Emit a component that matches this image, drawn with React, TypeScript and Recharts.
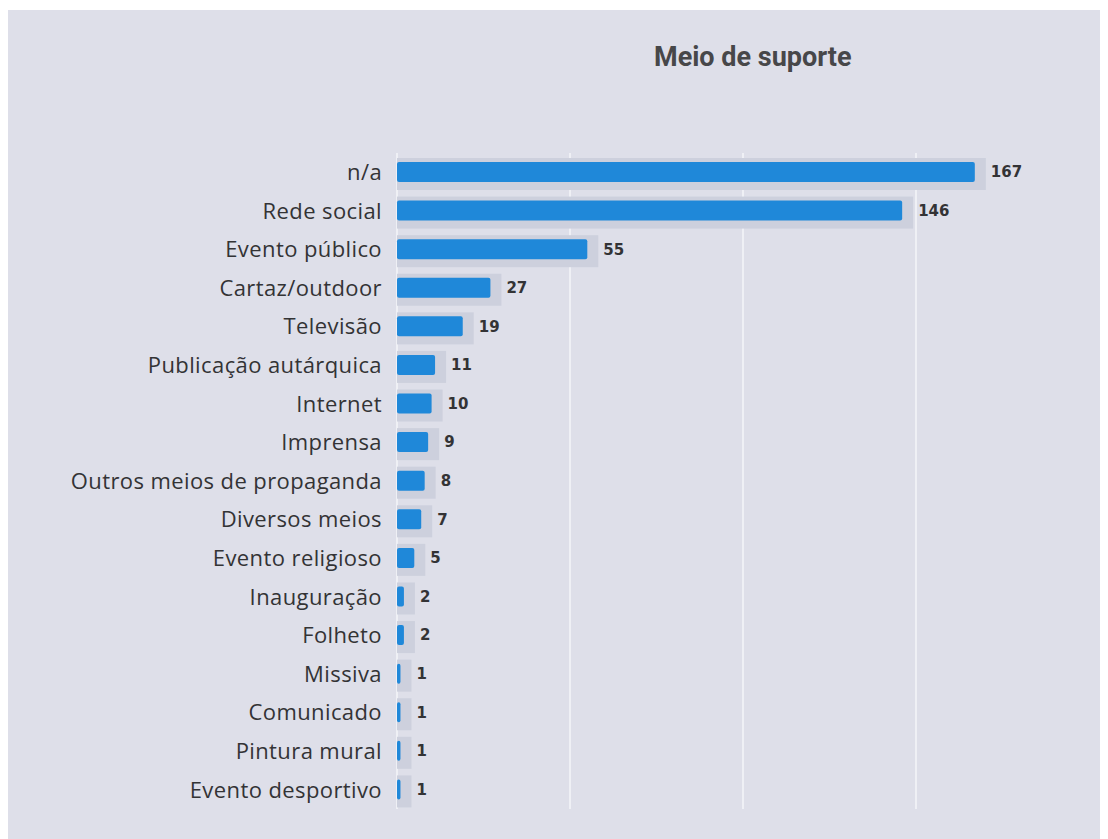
import { Bar, BarChart, CartesianGrid, LabelList, XAxis, YAxis } from "recharts"

const categories = [
  "n/a",
  "Rede social",
  "Evento público",
  "Cartaz/outdoor",
  "Televisão",
  "Publicação autárquica",
  "Internet",
  "Imprensa",
  "Outros meios de propaganda",
  "Diversos meios",
  "Evento religioso",
  "Inauguração",
  "Folheto",
  "Missiva",
  "Comunicado",
  "Pintura mural",
  "Evento desportivo",
]

const counts = [167, 146, 55, 27, 19, 11, 10, 9, 8, 7, 5, 2, 2, 1, 1, 1, 1]

const xTicks = [0, 50, 100, 150]

const data = categories.map((name, i) => ({ name, value: counts[i] }))

// bar with a soft grey box behind it, like the scanned original
function ShadowBar(props: any) {
  const { x, y, width, height } = props
  return (
    <g>
      <rect x={x} y={y - 4} width={width + 11} height={height + 12} fill="#cdd0dd" />
      <rect x={x} y={y} width={width} height={height} rx={2} fill="#1f88d9" />
    </g>
  )
}

export default function App() {
  return (
    <div
      style={{
        position: "relative",
        width: 1092,
        height: 829,
        marginTop: 2,
        background: "#dedfe9",
      }}
    >
      <div
        style={{
          position: "absolute",
          left: 646,
          top: 31,
          fontFamily: "Roboto, 'Open Sans', sans-serif",
          fontWeight: 700,
          fontSize: 27,
          color: "#474749",
          whiteSpace: "nowrap",
        }}
      >
        Meio de suporte
      </div>
      <BarChart
        width={1092}
        height={829}
        data={data}
        layout="vertical"
        barSize={20}
        margin={{ top: 143, right: 11, bottom: 30, left: 0 }}
      >
        <CartesianGrid
          horizontal={false}
          vertical
          syncWithTicks
          verticalValues={xTicks}
          stroke="#eff0f5"
          strokeWidth={2}
        />
        <XAxis type="number" domain={[0, 200]} ticks={xTicks} hide />
        <YAxis
          type="category"
          dataKey="name"
          width={389}
          axisLine={false}
          tickLine={false}
          tickMargin={9}
          interval={0}
          tick={{
            fill: "#333335",
            fontSize: 22,
            letterSpacing: 0.4,
            fontFamily: "'Open Sans', Roboto, sans-serif",
          }}
        />
        <Bar dataKey="value" shape={ShadowBar} isAnimationActive={false}>
          <LabelList
            dataKey="value"
            position="right"
            offset={16}
            fill="#333335"
            fontSize={15}
            fontWeight={700}
            fontFamily="'DejaVu Sans', sans-serif"
          />
        </Bar>
      </BarChart>
    </div>
  )
}
